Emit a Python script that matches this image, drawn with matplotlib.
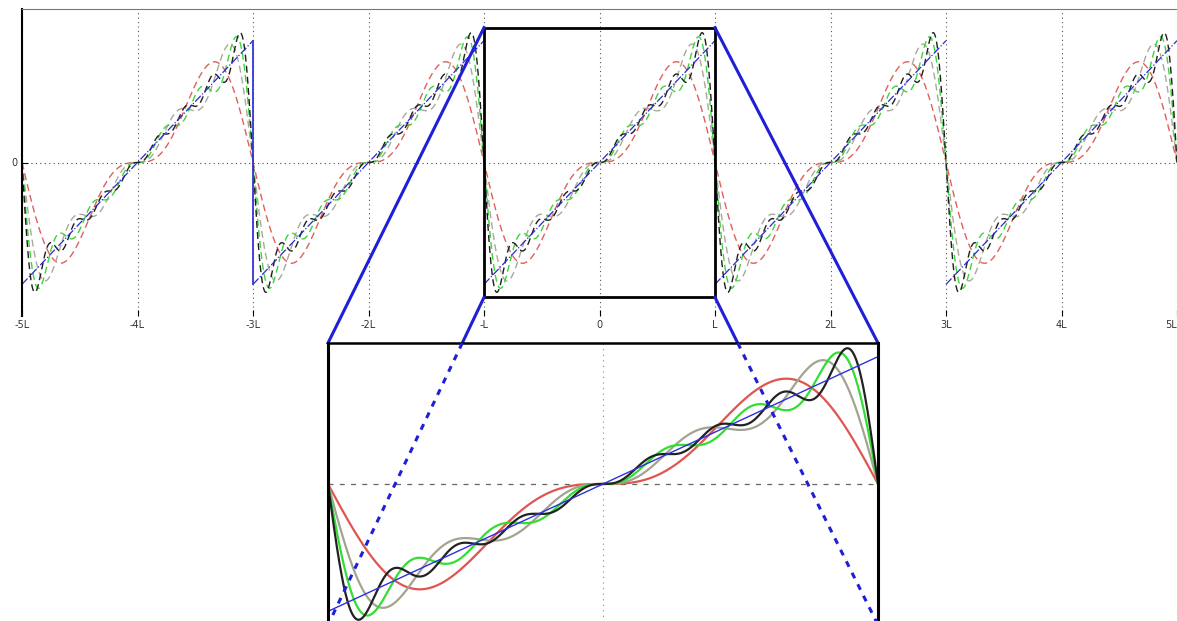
import numpy as np
import matplotlib
matplotlib.use("Agg")
import matplotlib.pyplot as plt
from matplotlib.patches import Rectangle
from matplotlib.lines import Line2D

# sine coefficients of f(x) = x on (-L, L), with L = 1
coef = [0.6366, -0.3183, 0.2122, -0.1592, 0.1273, -0.1061, 0.0909, -0.0796]
n_terms = [2, 4, 6, 8]
main_colors = ['#e0605a', '#a9a99b', '#3cd43c', '#1e1e1e']
zoom_colors = ['#e0554f', '#a3a392', '#33dd33', '#222222']
period_centres = [-4, -2, 0, 2, 4]
tick_pos = [-5, -4, -3, -2, -1, 0, 1, 2, 3, 4, 5]
tick_lab = ['-5L', '-4L', '-3L', '-2L', '-L', '0', 'L', '2L', '3L', '4L', '5L']
box = 1.107


def partial_sum(x, n):
    s = np.zeros_like(x)
    for k in range(n):
        s += coef[k] * np.sin((k + 1) * np.pi * x)
    return s


fig = plt.figure(figsize=(11.77, 6.21), dpi=100)

# ---- main axes
ax = fig.add_axes([22 / 1177, 1 - 316 / 621, 1 - 22 / 1177, (316 - 9) / 621], zorder=0)
ax.set_xlim(-5, 5)
ax.set_ylim(-1.26, 1.26)
x = np.linspace(-5, 5, 4001)
for n, c in zip(n_terms, main_colors):
    ax.plot(x, partial_sum(x, n), color=c, lw=1.0, ls=(0, (5, 3)))
for c0 in period_centres:
    ax.plot([c0 - 1, c0 + 1], [-1, 1], color='#2a2ad0', lw=0.9, ls='-.')
ax.plot([-3, -3], [1, -1], color='#3535d8', lw=1.3)

for t in tick_pos:
    ax.axvline(t, color='#555555', lw=0.8, ls=(0, (1, 3)), zorder=0.5)
ax.axhline(0, color='#444444', lw=0.8, ls=(0, (1, 3)), zorder=0.5)
ax.set_xticks(tick_pos)
ax.set_xticklabels(tick_lab, fontsize=7, color='#333333')
ax.get_xticklabels()[-1].set_ha('right')
ax.set_yticks([0])
ax.set_yticklabels(['0'], fontsize=7, color='#333333')
ax.tick_params(direction='in', length=4, width=0.8, pad=3)
ax.spines['bottom'].set_visible(False)
ax.spines['right'].set_visible(False)
ax.spines['left'].set_linewidth(1.5)
ax.spines['top'].set_color('#777777')
ax.add_patch(Rectangle((-1, -box), 2, 2 * box, fill=False, ec='black', lw=2, zorder=5))

# ---- zoomed axes
axz = fig.add_axes([328 / 1177, 1 - 625 / 621, 550 / 1177, 282 / 621], zorder=1)
axz.set_xlim(-1, 1)
axz.set_ylim(-box, box)
xz = np.linspace(-1, 1, 1201)
for n, c in zip(n_terms, zoom_colors):
    axz.plot(xz, partial_sum(xz, n), color=c, lw=1.6)
axz.plot([-1, 1], [-1, 1], color='#2f2fe0', lw=1.0)
axz.axhline(0, color='#666666', lw=0.9, ls=(0, (4, 5)), zorder=0.5)
axz.axvline(0, color='#888888', lw=0.8, ls=(0, (1, 4)), zorder=0.5)
axz.set_xticks([])
axz.set_yticks([])
axz.spines['bottom'].set_visible(False)
for s in ['left', 'right']:
    axz.spines[s].set_linewidth(2.2)
axz.spines['top'].set_linewidth(1.8)

# ---- connecting lines
to_fig = fig.transFigure.inverted()
blue = '#1f1fd8'
for xc in [-1, 1]:
    for yc in [box, -box]:
        p0 = np.array(ax.transData.transform((xc, yc)))
        p1 = np.array(axz.transData.transform((xc, yc)))
        if yc > 0:
            a, b = to_fig.transform(p0), to_fig.transform(p1)
            fig.add_artist(Line2D([a[0], b[0]], [a[1], b[1]], color=blue, lw=2.2, zorder=0.7))
        else:
            ytop = axz.transData.transform((0, box))[1]
            f = (ytop - p0[1]) / (p1[1] - p0[1])
            pm = p0 + f * (p1 - p0)
            a, m, b = to_fig.transform(p0), to_fig.transform(pm), to_fig.transform(p1)
            fig.add_artist(Line2D([a[0], m[0]], [a[1], m[1]], color=blue, lw=2.2, zorder=0.7))
            fig.add_artist(Line2D([m[0], b[0]], [m[1], b[1]], color=blue, lw=2.2,
                                  ls=(0, (2, 2.2)), zorder=2))

fig.savefig('out.png', dpi=100)
